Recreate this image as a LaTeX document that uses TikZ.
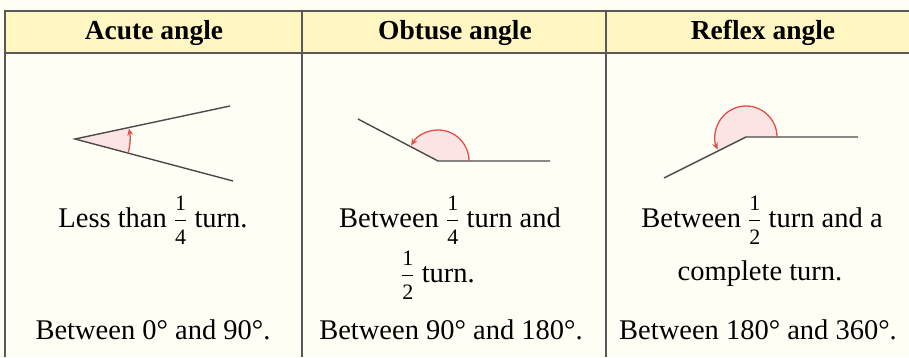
\documentclass[tikz,border=0pt]{standalone}
\usepackage{amsmath}
\usepackage{fontspec}
\setmainfont{Liberation Serif}
\usetikzlibrary{arrows.meta}
\definecolor{bg}{HTML}{FFFEF5}
\definecolor{hdr}{HTML}{FFF6C2}
\definecolor{rulecol}{HTML}{585858}
\definecolor{raycol}{HTML}{4A4A4A}
\definecolor{arcred}{HTML}{E0504A}
\definecolor{pinkfill}{HTML}{FCE4E4}
\newcommand{\fr}[2]{\ensuremath{\dfrac{\text{\fontsize{22}{22}\selectfont #1}}{\text{\fontsize{22}{22}\selectfont #2}}}}
\begin{document}
\begin{tikzpicture}[x=1pt,y=1pt,
  body/.style={font=\fontsize{28.5}{32}\selectfont, anchor=base, inner sep=0pt},
  head/.style={font=\bfseries\fontsize{27.5}{32}\selectfont, anchor=base, inner sep=0pt},
  tline/.style={draw=rulecol, line width=1.6pt},
  rayline/.style={draw=raycol, line width=1.4pt, line join=miter},
  turnarc/.style={draw=arcred, line width=1.3pt, -{Stealth[length=7pt,width=6pt]}}]
\fill[bg] (0,0) rectangle (909,357);
\useasboundingbox (0,0) rectangle (909,357);
% table
\fill[hdr] (5,304) rectangle (909,346);
\draw[tline] (5,0) -- (5,346) -- (909,346);
\draw[tline] (5,304) -- (909,304);
\draw[tline] (302,0) -- (302,346);
\draw[tline] (606,0) -- (606,346);
% headers
\node[head] (h1) at (154,317) {Acute angle};
\node[head] (h2) at (455,317) {Obtuse angle};
\node[head] (h3) at (763,317) {Reflex angle};
% acute angle
\coordinate (A) at (75,218);
\coordinate (A1) at (230,251);
\coordinate (A2) at (233,176);
\fill[pinkfill] (A) -- ([shift={(-14.9:55)}]A) arc[start angle=-14.9, end angle=12, radius=55] -- cycle;
\draw[rayline] (A1) -- (A) -- (A2);
\draw[turnarc] ([shift={(-14.9:55)}]A) arc[start angle=-14.9, end angle=11, radius=55];
% obtuse angle
\coordinate (O) at (438,196);
\coordinate (O1) at (550,196);
\coordinate (O2) at (358,238);
\fill[pinkfill] (O) -- ([shift={(0:31)}]O) arc[start angle=0, end angle=152.3, radius=31] -- cycle;
\draw[rayline] (O2) -- (O) -- (O1);
\draw[turnarc] ([shift={(0:31)}]O) arc[start angle=0, end angle=150, radius=31];
% reflex angle
\coordinate (R) at (746,220);
\coordinate (R1) at (858,220);
\coordinate (R2) at (664,179);
\fill[pinkfill] (R) -- ([shift={(0:31)}]R) arc[start angle=0, end angle=206.6, radius=31] -- cycle;
\draw[rayline] (R2) -- (R) -- (R1);
\draw[turnarc] ([shift={(0:31)}]R) arc[start angle=0, end angle=204, radius=31];
% texts
\node[body] (a1) at (153,130) {Less than \fr{1}{4} turn.};
\node[body] (o1) at (450,130) {Between \fr{1}{4} turn and};
\node[body] (o2) at (438,75) {\fr{1}{2} turn.};
\node[body] (r1) at (762,130) {Between \fr{1}{2} turn and a};
\node[body] (r2) at (760,77) {complete turn.};
\node[body] (a3) at (153,18) {Between 0° and 90°.};
\node[body] (o3) at (451,18) {Between 90° and 180°.};
\node[body] (r3) at (758,18) {Between 180° and 360°.};
\end{tikzpicture}
\end{document}
